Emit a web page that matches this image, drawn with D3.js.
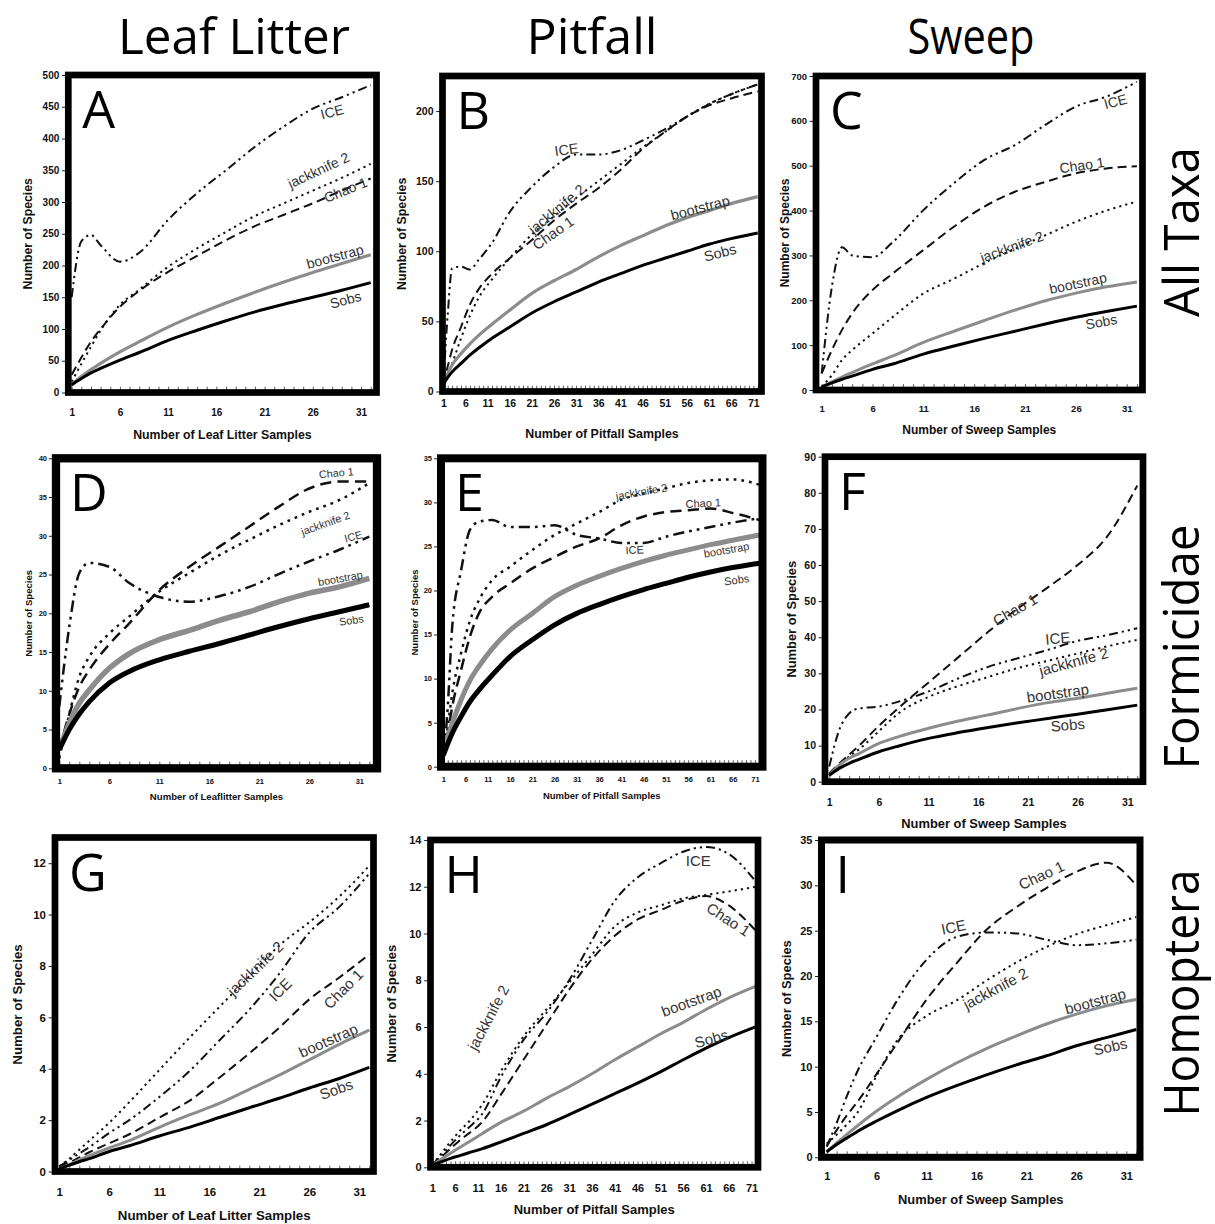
<!DOCTYPE html>
<html>
<head>
<meta charset="utf-8">
<script src="https://cdn.jsdelivr.net/npm/d3@7"></script>
<style>
	body { margin: 0; background: #fff; }
	svg { display: block; }
	.tick text { font-family: "Liberation Sans", Arial, sans-serif; font-weight: bold; fill: #111; }
	.axis-title { font-family: "Liberation Sans", Arial, sans-serif; font-weight: bold; fill: #111; }
	.curve-label { font-family: "Liberation Sans", Arial, sans-serif; fill: #333; }
	.big { font-family: "Open Sans", "Noto Sans", sans-serif; fill: #000; }
</style>
</head>
<body>
<svg id="fig" width="1215" height="1224"></svg>
<script>
// ---- values ----
const columnTitles = ["Leaf Litter", "Pitfall", "Sweep"];
const rowTitles = ["All Taxa", "Formicidae", "Homoptera"];
const seriesNames = ["Sobs", "bootstrap", "Chao 1", "jackknife 2", "ICE"];

const samples32 = [1, 2, 3, 4, 6, 8, 11, 14, 17, 20, 23, 26, 29, 32];
const samples72 = [1, 2, 3, 5, 7, 9, 12, 16, 21, 26, 31, 36, 41, 46, 51, 56, 61, 66, 72];
const ticks32 = [1, 6, 11, 16, 21, 26, 31];
const ticks72 = [1, 6, 11, 16, 21, 26, 31, 36, 41, 46, 51, 56, 61, 66, 71];

const yTicksA = [0, 50, 100, 150, 200, 250, 300, 350, 400, 450, 500];
const yTicksB = [0, 50, 100, 150, 200];
const yTicksC = [0, 100, 200, 300, 400, 500, 600, 700];
const yTicksD = [0, 5, 10, 15, 20, 25, 30, 35, 40];
const yTicksE = [0, 5, 10, 15, 20, 25, 30, 35];
const yTicksF = [0, 10, 20, 30, 40, 50, 60, 70, 80, 90];
const yTicksG = [0, 2, 4, 6, 8, 10, 12];
const yTicksH = [0, 2, 4, 6, 8, 10, 12, 14];
const yTicksI = [0, 5, 10, 15, 20, 25, 30, 35];

// All taxa
const sobsA = [12, 22, 31, 38, 51, 63, 82, 98, 113, 127, 139, 150, 161, 173];
const bootA = [12, 25, 36, 46, 64, 80, 103, 123, 141, 158, 174, 189, 203, 217];
const chaoA = [28, 55, 80, 100, 135, 160, 190, 215, 240, 262, 280, 298, 318, 337];
const jackA = [17, 45, 72, 98, 138, 162, 198, 227, 253, 278, 298, 318, 338, 360];
const iceA = [150, 238, 248, 232, 206, 220, 272, 314, 350, 387, 419, 447, 465, 484];

const sobsB = [5, 10, 14, 20, 26, 31, 38, 46, 56, 64, 71, 78, 84, 90, 95, 100, 105, 109, 113];
const bootB = [5, 13, 19, 27, 34, 40, 48, 58, 70, 79, 87, 96, 104, 111, 118, 124, 129, 134, 139];
const chaoB = [5, 18, 30, 46, 62, 73, 84, 95, 108, 122, 134, 145, 158, 173, 185, 196, 204, 209, 214];
const jackB = [3, 12, 20, 38, 54, 67, 80, 95, 112, 125, 138, 150, 162, 174, 185, 196, 205, 212, 219];
const iceB = [5, 55, 88, 89, 87, 94, 106, 128, 146, 160, 169, 169, 172, 179, 187, 196, 205, 212, 219];

const sobsC = [7, 16, 24, 31, 46, 58, 80, 98, 115, 131, 147, 162, 175, 187];
const bootC = [7, 18, 29, 39, 58, 76, 106, 131, 155, 178, 199, 216, 230, 241];
const chaoC = [37, 89, 134, 171, 223, 260, 312, 364, 409, 442, 464, 483, 494, 499];
const jackC = [7, 33, 67, 89, 126, 163, 215, 248, 283, 315, 345, 375, 400, 420];
const iceC = [37, 230, 318, 300, 296, 330, 401, 461, 513, 546, 591, 632, 654, 687];

// Formicidae
const sobsD = [2.4, 5, 7, 8.6, 11, 12.5, 14, 15.1, 16.1, 17.2, 18.3, 19.3, 20.2, 21.1];
const bootD = [2.4, 5.8, 8.4, 10.1, 12.9, 14.8, 16.6, 17.8, 19.1, 20.2, 21.5, 22.6, 23.4, 24.5];
const chaoD = [2.4, 7, 10.5, 12.7, 16, 18.7, 23, 26, 28.6, 31.2, 33.8, 36.1, 37, 37];
const jackD = [1.3, 7, 11.8, 14.4, 17.4, 19.6, 22.8, 25.2, 27.5, 29.5, 31.4, 33.1, 34.6, 36.8];
const iceD = [8, 18.3, 25.2, 26.5, 26, 23.9, 22.1, 21.5, 22.2, 23.4, 25.1, 26.7, 28.2, 29.9];

const sobsE = [1.3, 2.6, 3.8, 5.7, 7.4, 8.7, 10.4, 12.5, 14.4, 16.1, 17.4, 18.4, 19.3, 20.1, 20.8, 21.5, 22.1, 22.6, 23.1];
const bootE = [1.3, 3.4, 4.9, 7.6, 9.8, 11.4, 13.4, 15.5, 17.4, 19.3, 20.6, 21.6, 22.5, 23.3, 24, 24.6, 25.2, 25.7, 26.3];
const chaoE = [1.3, 3.8, 6.8, 11, 14.8, 17.4, 19.3, 20.8, 22.5, 23.8, 25, 25.9, 27.4, 28.4, 28.9, 29.1, 29.3, 28.8, 28];
const jackE = [0.6, 4.5, 8.3, 12.9, 16.6, 18.9, 21.2, 22.7, 24.6, 26.3, 27.6, 28.9, 30.3, 31, 31.6, 32.2, 32.5, 32.6, 32];
const iceE = [0.8, 6.8, 15.9, 22.3, 26.9, 27.8, 28, 27.2, 27.2, 27.4, 26.3, 25.9, 25.4, 25.4, 26.1, 26.7, 27.2, 27.7, 28.2];

const sobsF = [1.8, 3.7, 5.1, 6.2, 8.3, 9.9, 12, 13.6, 15, 16.3, 17.5, 18.7, 19.9, 21.2];
const bootF = [1.8, 4.6, 6.5, 7.8, 10.6, 12.5, 14.8, 16.8, 18.5, 20.3, 21.9, 23.1, 24.5, 25.9];
const chaoF = [2.3, 5, 7.5, 10, 15.5, 20.5, 27.5, 34.5, 41.5, 48, 53.8, 60, 68, 82];
const jackF = [1.8, 4.5, 7, 9, 14, 19, 23.5, 26.5, 29, 31.5, 33.5, 35.5, 37.5, 39.3];
const iceF = [4.2, 14.3, 18.9, 20.3, 20.8, 22.2, 25, 28.6, 31.8, 34.2, 36.5, 39, 40.6, 42.5];

// Homoptera
const sobsG = [0.1, 0.25, 0.38, 0.5, 0.78, 1.0, 1.38, 1.72, 2.1, 2.48, 2.85, 3.25, 3.62, 4.05];
const bootG = [0.1, 0.27, 0.45, 0.62, 0.92, 1.2, 1.72, 2.2, 2.65, 3.2, 3.75, 4.35, 4.95, 5.5];
const chaoG = [0.2, 0.35, 0.55, 0.75, 1.1, 1.45, 2.1, 2.75, 3.65, 4.6, 5.6, 6.7, 7.55, 8.45];
const jackG = [0.2, 0.5, 0.85, 1.2, 1.9, 2.7, 3.95, 5.2, 6.4, 7.6, 8.8, 9.7, 10.7, 11.9];
const iceG = [0.2, 0.45, 0.7, 0.95, 1.5, 2.0, 2.9, 3.9, 5.1, 6.3, 7.7, 9.3, 10.3, 11.6];

const sobsH = [0.1, 0.17, 0.24, 0.38, 0.5, 0.62, 0.8, 1.08, 1.45, 1.82, 2.25, 2.7, 3.15, 3.6, 4.08, 4.6, 5.1, 5.55, 6.02];
const bootH = [0.1, 0.22, 0.35, 0.6, 0.85, 1.08, 1.45, 1.92, 2.4, 2.95, 3.45, 4.0, 4.6, 5.15, 5.7, 6.2, 6.75, 7.25, 7.75];
const chaoH = [0.1, 0.28, 0.45, 0.8, 1.15, 1.45, 1.95, 3.1, 4.6, 6.1, 7.6, 8.9, 9.9, 10.6, 11.0, 11.4, 11.6, 11.2, 10.1];
const jackH = [0.1, 0.35, 0.6, 1.1, 1.55, 1.95, 2.7, 4.1, 5.6, 6.75, 7.9, 9.1, 10.3, 10.9, 11.2, 11.5, 11.65, 11.8, 12.0];
const iceH = [0.1, 0.3, 0.5, 0.95, 1.35, 1.7, 2.3, 3.85, 5.45, 6.6, 8.0, 9.7, 11.4, 12.4, 13.0, 13.5, 13.7, 13.4, 12.2];

const sobsI = [0.6, 1.4, 2.1, 2.8, 4.0, 5.1, 6.6, 7.9, 9.1, 10.2, 11.2, 12.3, 13.2, 14.1];
const bootI = [0.6, 1.6, 2.5, 3.4, 5.1, 6.6, 8.6, 10.4, 12.0, 13.4, 14.7, 15.8, 16.7, 17.4];
const chaoI = [1.2, 3.0, 4.6, 6.0, 9.2, 12.5, 17.4, 21.4, 25.1, 27.6, 29.7, 31.5, 32.5, 30.0];
const jackI = [1.5, 2.5, 3.6, 4.8, 9.0, 12.8, 15.6, 17.3, 19.5, 21.5, 23.2, 24.6, 25.6, 26.5];
const iceI = [1.2, 3.8, 6.7, 9.3, 13.3, 17.2, 21.8, 24.3, 24.8, 24.7, 24.0, 23.4, 23.6, 24.0];

const panels = [
	{ id: "A", samples: samples32, xTicks: ticks32, yTicks: yTicksA, yMax: 500, series: [sobsA, bootA, chaoA, jackA, iceA], xTitle: "Number of Leaf Litter Samples" },
	{ id: "B", samples: samples72, xTicks: ticks72, yTicks: yTicksB, yMax: 225, series: [sobsB, bootB, chaoB, jackB, iceB], xTitle: "Number of Pitfall Samples" },
	{ id: "C", samples: samples32, xTicks: ticks32, yTicks: yTicksC, yMax: 700, series: [sobsC, bootC, chaoC, jackC, iceC], xTitle: "Number of Sweep Samples" },
	{ id: "D", samples: samples32, xTicks: ticks32, yTicks: yTicksD, yMax: 40, series: [sobsD, bootD, chaoD, jackD, iceD], xTitle: "Number of Leaflitter Samples" },
	{ id: "E", samples: samples72, xTicks: ticks72, yTicks: yTicksE, yMax: 35, series: [sobsE, bootE, chaoE, jackE, iceE], xTitle: "Number of Pitfall Samples" },
	{ id: "F", samples: samples32, xTicks: ticks32, yTicks: yTicksF, yMax: 90, series: [sobsF, bootF, chaoF, jackF, iceF], xTitle: "Number of Sweep Samples" },
	{ id: "G", samples: samples32, xTicks: ticks32, yTicks: yTicksG, yMax: 13, series: [sobsG, bootG, chaoG, jackG, iceG], xTitle: "Number of Leaf Litter Samples" },
	{ id: "H", samples: samples72, xTicks: ticks72, yTicks: yTicksH, yMax: 14, series: [sobsH, bootH, chaoH, jackH, iceH], xTitle: "Number of Pitfall Samples" },
	{ id: "I", samples: samples32, xTicks: ticks32, yTicks: yTicksI, yMax: 35, series: [sobsI, bootI, chaoI, jackI, iceI], xTitle: "Number of Sweep Samples" }
];

// ---- layout: frame [x0, y0, x1, y1], x domain at the frame edges, font sizes, label spots ----
const layout = {
	A: { frame: [68.3, 75, 376.5, 392.5], xDom: [0.65, 32.6], bw: 6.7, lw: [3, 3.2, 2], tick: 10, title: 12.3, yTitleX: -41, xTickY: 23, xTitleY: 46, labelSize: 14,
		labels: [["ICE", 28, 442, -15], ["jackknife 2", 26.6, 350, -25], ["Chao 1", 29.4, 319, -22], ["bootstrap", 28.3, 214, -15], ["Sobs", 29.4, 146, -15]] },
	B: { frame: [442.5, 76, 761.5, 391.5], xDom: [0.82, 72.85], bw: 6.7, lw: [3, 3.2, 2], tick: 10.5, title: 12.4, yTitleX: -41, xTickY: 15, xTitleY: 46, labelSize: 14.5,
		labels: [["ICE", 28.8, 172.6, -8], ["jackknife 2", 26.6, 130, -40], ["Chao 1", 25.8, 113, -35], ["bootstrap", 59, 131, -15], ["Sobs", 63.5, 99, -15]] },
	C: { frame: [816, 76, 1142.5, 390], xDom: [0.44, 32.55], bw: 6.7, lw: [3, 3, 2], tick: 9.5, title: 12, yTitleX: -31, xTickY: 22, xTitleY: 44, labelSize: 14,
		labels: [["ICE", 29.9, 643, -15], ["Chao 1", 26.6, 501, -8], ["jackknife 2", 19.7, 319, -20], ["bootstrap", 26.2, 238, -12], ["Sobs", 28.5, 152, -10]] },
	D: { frame: [56, 458.3, 377, 768.3], xDom: [0.67, 32.77], bw: 8.3, lw: [5, 5.5, 2.5], tick: 7.5, title: 9.6, yTitleX: -27, xTickY: 16, xTitleY: 32, labelSize: 10.8,
		labels: [["Chao 1", 28.7, 38.1, -5], ["jackknife 2", 27.6, 31.6, -20], ["ICE", 30.4, 29.9, -15], ["bootstrap", 29.1, 24.5, -10], ["Sobs", 30.2, 19.1, -8]] },
	E: { frame: [441, 458.3, 762.5, 766.7], xDom: [0.48, 72.7], bw: 8, lw: [5, 5, 2.5], tick: 7.5, title: 9.5, yTitleX: -26, xTickY: 15, xTitleY: 32, labelSize: 11,
		labels: [["jackknife 2", 45.5, 31.2, -10], ["Chao 1", 59.4, 29.9, -3], ["ICE", 44, 24.6, -3], ["bootstrap", 64.6, 24.6, -10], ["Sobs", 66.9, 21.2, -8]] },
	F: { frame: [825, 456.7, 1143, 781.7], xDom: [0.57, 32.58], bw: 6.7, lw: [3, 3, 2], tick: 10.5, title: 12.9, yTitleX: -34, xTickY: 24, xTitleY: 46, labelSize: 15,
		labels: [["Chao 1", 19.7, 47.6, -30], ["ICE", 24, 39.7, -5], ["jackknife 2", 25.6, 33.2, -15], ["bootstrap", 24, 24.5, -8], ["Sobs", 25, 15.7, -5]] },
	G: { frame: [55, 837.5, 373.5, 1171.5], xDom: [0.57, 32.42], bw: 6.7, lw: [3, 3, 2], tick: 11.5, title: 13.3, yTitleX: -38, xTickY: 24, xTitleY: 48, labelSize: 15,
		labels: [["jackknife 2", 20.6, 7.9, -44], ["ICE", 23.1, 7.07, -45], ["Chao 1", 29.4, 7.1, -45], ["bootstrap", 27.9, 5.1, -24], ["Sobs", 28.7, 3.2, -20]] },
	H: { frame: [430.5, 840, 758, 1167.3], xDom: [0.6, 72.4], bw: 6.7, lw: [3, 3, 2], tick: 11, title: 13, yTitleX: -39, xTickY: 25, xTitleY: 47, labelSize: 15,
		labels: [["ICE", 59.3, 13.1, 0], ["Chao 1", 65.9, 10.6, 33], ["jackknife 2", 13.3, 6.4, -62], ["bootstrap", 57.8, 7.1, -20], ["Sobs", 62.2, 5.5, -15]] },
	I: { frame: [821.5, 840, 1140, 1157.3], xDom: [0.48, 32.37], bw: 7, lw: [3, 3, 2], tick: 11, title: 12.9, yTitleX: -35, xTickY: 23, xTitleY: 47, labelSize: 15,
		labels: [["Chao 1", 22.5, 31.1, -25], ["ICE", 13.7, 25.4, -12], ["jackknife 2", 17.9, 18.6, -28], ["bootstrap", 27.9, 17.2, -15], ["Sobs", 29.4, 12.2, -12]] }
};

const svg = d3.select("#fig");

function drawPanel (p) {
	const L = layout[p.id];
	const [x0, y0, x1, y1] = L.frame;
	const x = d3.scaleLinear().domain(L.xDom).range([x0, x1]);
	const y = d3.scaleLinear().domain([0, p.yMax]).range([y1, y0]);
	const g = svg.append("g").attr("class", "panel panel-" + p.id);
	const k = L.lw[2] / 2;

	// y axis: short ticks poking out of the frame, labels right-aligned
	const yAxis = g.append("g")
		.attr("transform", `translate(${x0},0)`)
		.call(d3.axisLeft(y).tickValues(p.yTicks).tickSize(L.bw / 2 + 3).tickFormat(d3.format("d")));
	yAxis.select(".domain").remove();
	yAxis.selectAll("line").attr("stroke", "#222");
	yAxis.selectAll("text").attr("x", -9).style("font-size", L.tick + "px");

	// minor ticks along the inside of the bottom edge, one per sample
	const minor = g.append("g")
		.attr("transform", `translate(0,${y1})`)
		.call(d3.axisBottom(x).tickValues(d3.range(1, Math.floor(L.xDom[1]) + 1)).tickSize(-(L.bw / 2 + 2.5)).tickFormat(""));
	minor.select(".domain").remove();
	minor.selectAll("line").attr("stroke", "#333").attr("stroke-width", 0.8);

	// labelled x axis
	const xAxis = g.append("g")
		.attr("transform", `translate(0,${y1})`)
		.call(d3.axisBottom(x).tickValues(p.xTicks).tickSize(0).tickFormat(d3.format("d")));
	xAxis.select(".domain").remove();
	xAxis.selectAll("text").attr("y", L.xTickY).attr("dy", null).style("font-size", L.tick + "px");

	// axis titles
	g.append("text")
		.attr("class", "axis-title")
		.attr("transform", `translate(${x0 + L.yTitleX},${(y0 + y1) / 2}) rotate(-90)`)
		.attr("text-anchor", "middle")
		.attr("dy", "0.35em")
		.style("font-size", L.title + "px")
		.text("Number of Species");
	g.append("text")
		.attr("class", "axis-title")
		.attr("x", (x0 + x1) / 2)
		.attr("y", y1 + L.xTitleY)
		.attr("text-anchor", "middle")
		.style("font-size", L.title + "px")
		.text(p.xTitle);

	// curves: Sobs, bootstrap, Chao 1, jackknife 2, ICE
	const styles = [
		{ stroke: "#000", width: L.lw[0], dash: null },
		{ stroke: "#8c8c8c", width: L.lw[1], dash: null },
		{ stroke: "#111", width: L.lw[2], dash: [9, 5].map(v => v * k) },
		{ stroke: "#111", width: L.lw[2], dash: [2.2, 4].map(v => v * k) },
		{ stroke: "#111", width: L.lw[2], dash: [9, 4, 2.2, 4, 2.2, 4].map(v => v * k) }
	];
	const line = d3.line()
		.x(d => x(d[0]))
		.y(d => y(d[1]))
		.curve(d3.curveMonotoneX);

	// estimators first, then bootstrap and Sobs on top
	[2, 3, 4, 1, 0].forEach(i => {
		const pts = p.samples.map((s, j) => [s, p.series[i][j]]);
		g.append("path")
			.datum(pts)
			.attr("fill", "none")
			.attr("stroke", styles[i].stroke)
			.attr("stroke-width", styles[i].width)
			.attr("stroke-dasharray", styles[i].dash ? styles[i].dash.join(",") : null)
			.attr("stroke-linejoin", "round")
			.attr("d", line);
	});

	// curve names, set along their curves
	L.labels.forEach(([name, s, v, angle]) => {
		g.append("text")
			.attr("class", "curve-label")
			.attr("transform", `translate(${x(s)},${y(v)}) rotate(${angle})`)
			.attr("text-anchor", "middle")
			.attr("dy", "0.35em")
			.style("font-size", L.labelSize + "px")
			.text(name);
	});

	// heavy plot-area frame
	g.append("rect")
		.attr("x", x0).attr("y", y0)
		.attr("width", x1 - x0).attr("height", y1 - y0)
		.attr("fill", "none")
		.attr("stroke", "#000")
		.attr("stroke-width", L.bw);

	// panel letter
	g.append("text")
		.attr("class", "big")
		.attr("x", x0 + 14)
		.attr("y", y0 + 53)
		.style("font-size", "52px")
		.text(p.id);
}

panels.forEach(drawPanel);

// column headings and row headings
const colSpots = [[234, 232], [592, 131], [971, 127]];
columnTitles.forEach((t, i) => {
	svg.append("text")
		.attr("class", "big")
		.attr("x", colSpots[i][0] - colSpots[i][1] / 2)
		.attr("y", 54)
		.attr("textLength", colSpots[i][1])
		.attr("lengthAdjust", "spacingAndGlyphs")
		.style("font-size", "50px")
		.text(t);
});

const rowSpots = [[232, 170], [647, 245], [993, 247]];
rowTitles.forEach((t, i) => {
	svg.append("text")
		.attr("class", "big")
		.attr("transform", `translate(1199,${rowSpots[i][0] + rowSpots[i][1] / 2}) rotate(-90)`)
		.attr("textLength", rowSpots[i][1])
		.attr("lengthAdjust", "spacingAndGlyphs")
		.style("font-size", "50px")
		.text(t);
});
</script>
</body>
</html>
